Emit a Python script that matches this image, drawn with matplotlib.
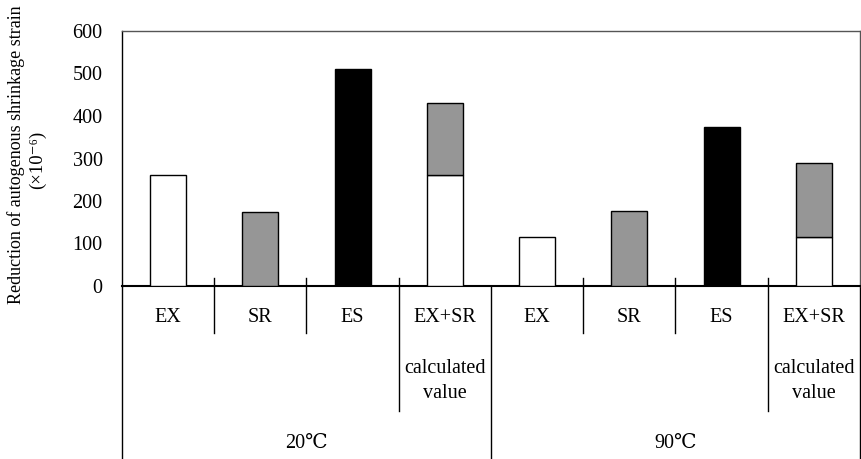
import matplotlib.pyplot as plt
import matplotlib.transforms as mtransforms
import numpy as np

plt.rcParams['font.family'] = ['Liberation Serif', 'DejaVu Serif', 'Noto Sans CJK JP']

# values (x10^-6)
groups = ['20℃', '90℃']
labels = ['EX', 'SR', 'ES', 'EX+SR']
ex_20, sr_20, es_20 = 262, 173, 511
ex_90, sr_90, es_90 = 115, 177, 374
calc_ex_20, calc_sr_20 = 262, 168
calc_ex_90, calc_sr_90 = 115, 174

# one entry per category column: white part, grey part, black part
white_vals = [ex_20, 0, 0, calc_ex_20, ex_90, 0, 0, calc_ex_90]
grey_vals = [0, sr_20, 0, calc_sr_20, 0, sr_90, 0, calc_sr_90]
black_vals = [0, 0, es_20, 0, 0, 0, es_90, 0]

W, H = 862, 459
fig = plt.figure(figsize=(W / 100, H / 100), dpi=100)
ax = fig.add_axes([122 / W, (H - 286) / H, 738 / W, 255 / H])

x = np.arange(8) + 0.5
bw = 0.39
white_vals = np.array(white_vals)
grey_vals = np.array(grey_vals)
black_vals = np.array(black_vals)

m = white_vals > 0
ax.bar(x[m], white_vals[m], bw, color='white', edgecolor='black', linewidth=1.0, zorder=3)
m = grey_vals > 0
ax.bar(x[m], grey_vals[m], bw, bottom=white_vals[m], color='#969696', edgecolor='black',
       linewidth=1.0, zorder=3)
m = black_vals > 0
ax.bar(x[m], black_vals[m], bw, color='black', edgecolor='black', linewidth=1.0, zorder=3)

fs = 14.5
ax.set_xlim(0, 8)
ax.set_ylim(0, 600)
ax.set_yticks(range(0, 601, 100))
ax.tick_params(axis='y', length=0, pad=14, labelsize=fs)
ax.set_xticks([])
for s in ax.spines.values():
    s.set_linewidth(1.0)
ax.spines['top'].set_color('#555555')
ax.spines['right'].set_color('#555555')
ax.spines['bottom'].set_linewidth(1.5)

# category table below the axis
tr = mtransforms.blended_transform_factory(ax.transData, ax.transAxes)
bottom = -173 / 255
for xi in [1, 2, 5, 6]:
    ax.plot([xi, xi], [8 / 255, -47 / 255], color='black', lw=1.0, transform=tr, clip_on=False)
for xi in [3, 7]:
    ax.plot([xi, xi], [8 / 255, -125 / 255], color='black', lw=1.0, transform=tr, clip_on=False)
for xi in [0, 4, 8]:
    ax.plot([xi, xi], [0, bottom], color='black', lw=1.0, transform=tr, clip_on=False)

for g in range(2):
    for i, lab in enumerate(labels):
        ax.text(g * 4 + i + 0.5, -31 / 255, lab, transform=tr, ha='center', va='center', fontsize=fs)
    ax.text(g * 4 + 3.5, -95 / 255, 'calculated\nvalue', transform=tr, ha='center', va='center',
            fontsize=fs, linespacing=1.45)
    ax.text(g * 4 + 2, -157 / 255, groups[g], transform=tr, ha='center', va='center', fontsize=fs)

fig.text(16 / W, 1 - 155 / H, 'Reduction of autogenous shrinkage strain', rotation=90,
         ha='center', va='center', fontsize=13)
fig.text(37 / W, 1 - 160 / H, '(×10⁻⁶)', rotation=90, ha='center', va='center', fontsize=13.5)

fig.savefig('out.png', dpi=100)
